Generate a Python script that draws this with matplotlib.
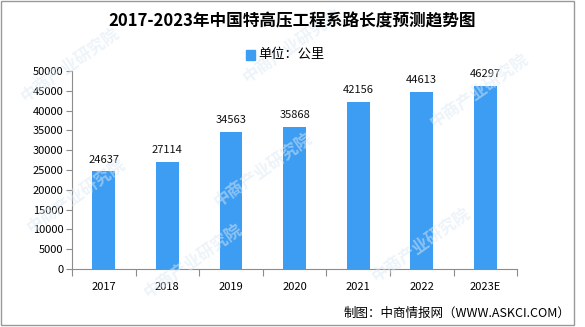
import matplotlib.pyplot as plt
from matplotlib.patches import Rectangle

plt.rcParams['font.family'] = ['Noto Sans CJK SC', 'DejaVu Sans']

# Length of UHV lines by year (km)
years = ['2017', '2018', '2019', '2020', '2021', '2022', '2023E']
length_km = [24637, 27114, 34563, 35868, 42156, 44613, 46297]

bar_color = '#3d9df2'
axis_color = '#8c8c8c'

fig = plt.figure(figsize=(5.85, 3.27), dpi=100)
ax = fig.add_axes([0.123, 0.177, 0.761, 0.606])

# faint diagonal watermarks behind everything
for wx, wy in [(0.12, 0.80), (0.50, 0.86), (0.82, 0.72), (0.13, 0.40),
               (0.45, 0.48), (0.33, 0.20), (0.72, 0.25)]:
    fig.text(wx, wy, '中商产业研究院', rotation=35, fontsize=12,
             color='#dce9f4', alpha=0.5, ha='center', va='center',
             fontweight='bold', zorder=0)

x = list(range(len(years)))
ax.bar(x, length_km, width=0.36, color=bar_color, zorder=2)
for xi, v in zip(x, length_km):
    ax.annotate(str(v), (xi, v), xytext=(0, 5), textcoords='offset points',
                ha='center', va='bottom', fontsize=8, color='#111111')

ax.set_xlim(-0.5, len(years) - 0.5)
ax.set_ylim(0, 50000)
ax.set_yticks(range(0, 50001, 5000))
ax.tick_params(axis='y', direction='out', length=4, color=axis_color,
               labelsize=8, pad=2)

# year labels between boundary ticks
ax.set_xticks([i - 0.5 for i in range(len(years) + 1)])
ax.set_xticklabels([])
ax.set_xticks(x, minor=True)
ax.set_xticklabels(years, minor=True, fontsize=8)
ax.tick_params(axis='x', which='major', direction='out', length=5,
               color=axis_color)
ax.tick_params(axis='x', which='minor', length=0, pad=9)

for side in ['top', 'right']:
    ax.spines[side].set_visible(False)
for side in ['left', 'bottom']:
    ax.spines[side].set_color(axis_color)
ax.patch.set_alpha(0)

fig.text(0.5, 0.935, '2017-2023年中国特高压工程系路长度预测趋势图',
         ha='center', va='center', fontsize=12, fontweight='bold')

# legend: unit label with a colour square
fig.patches.append(Rectangle((0.42, 0.818), 0.016, 0.03,
                             transform=fig.transFigure, color=bar_color))
fig.text(0.441, 0.835, '单位：公里', ha='left', va='center', fontsize=9.5)

fig.text(0.975, 0.043, '制图：中商情报网（WWW.ASKCI.COM）',
         ha='right', va='center', fontsize=9)

# outer frame
fig.patches.append(Rectangle((0.002, 0.006), 0.98, 0.99,
                             transform=fig.transFigure, fill=False,
                             edgecolor='#999999', linewidth=1))

fig.savefig('out.png', dpi=100)
